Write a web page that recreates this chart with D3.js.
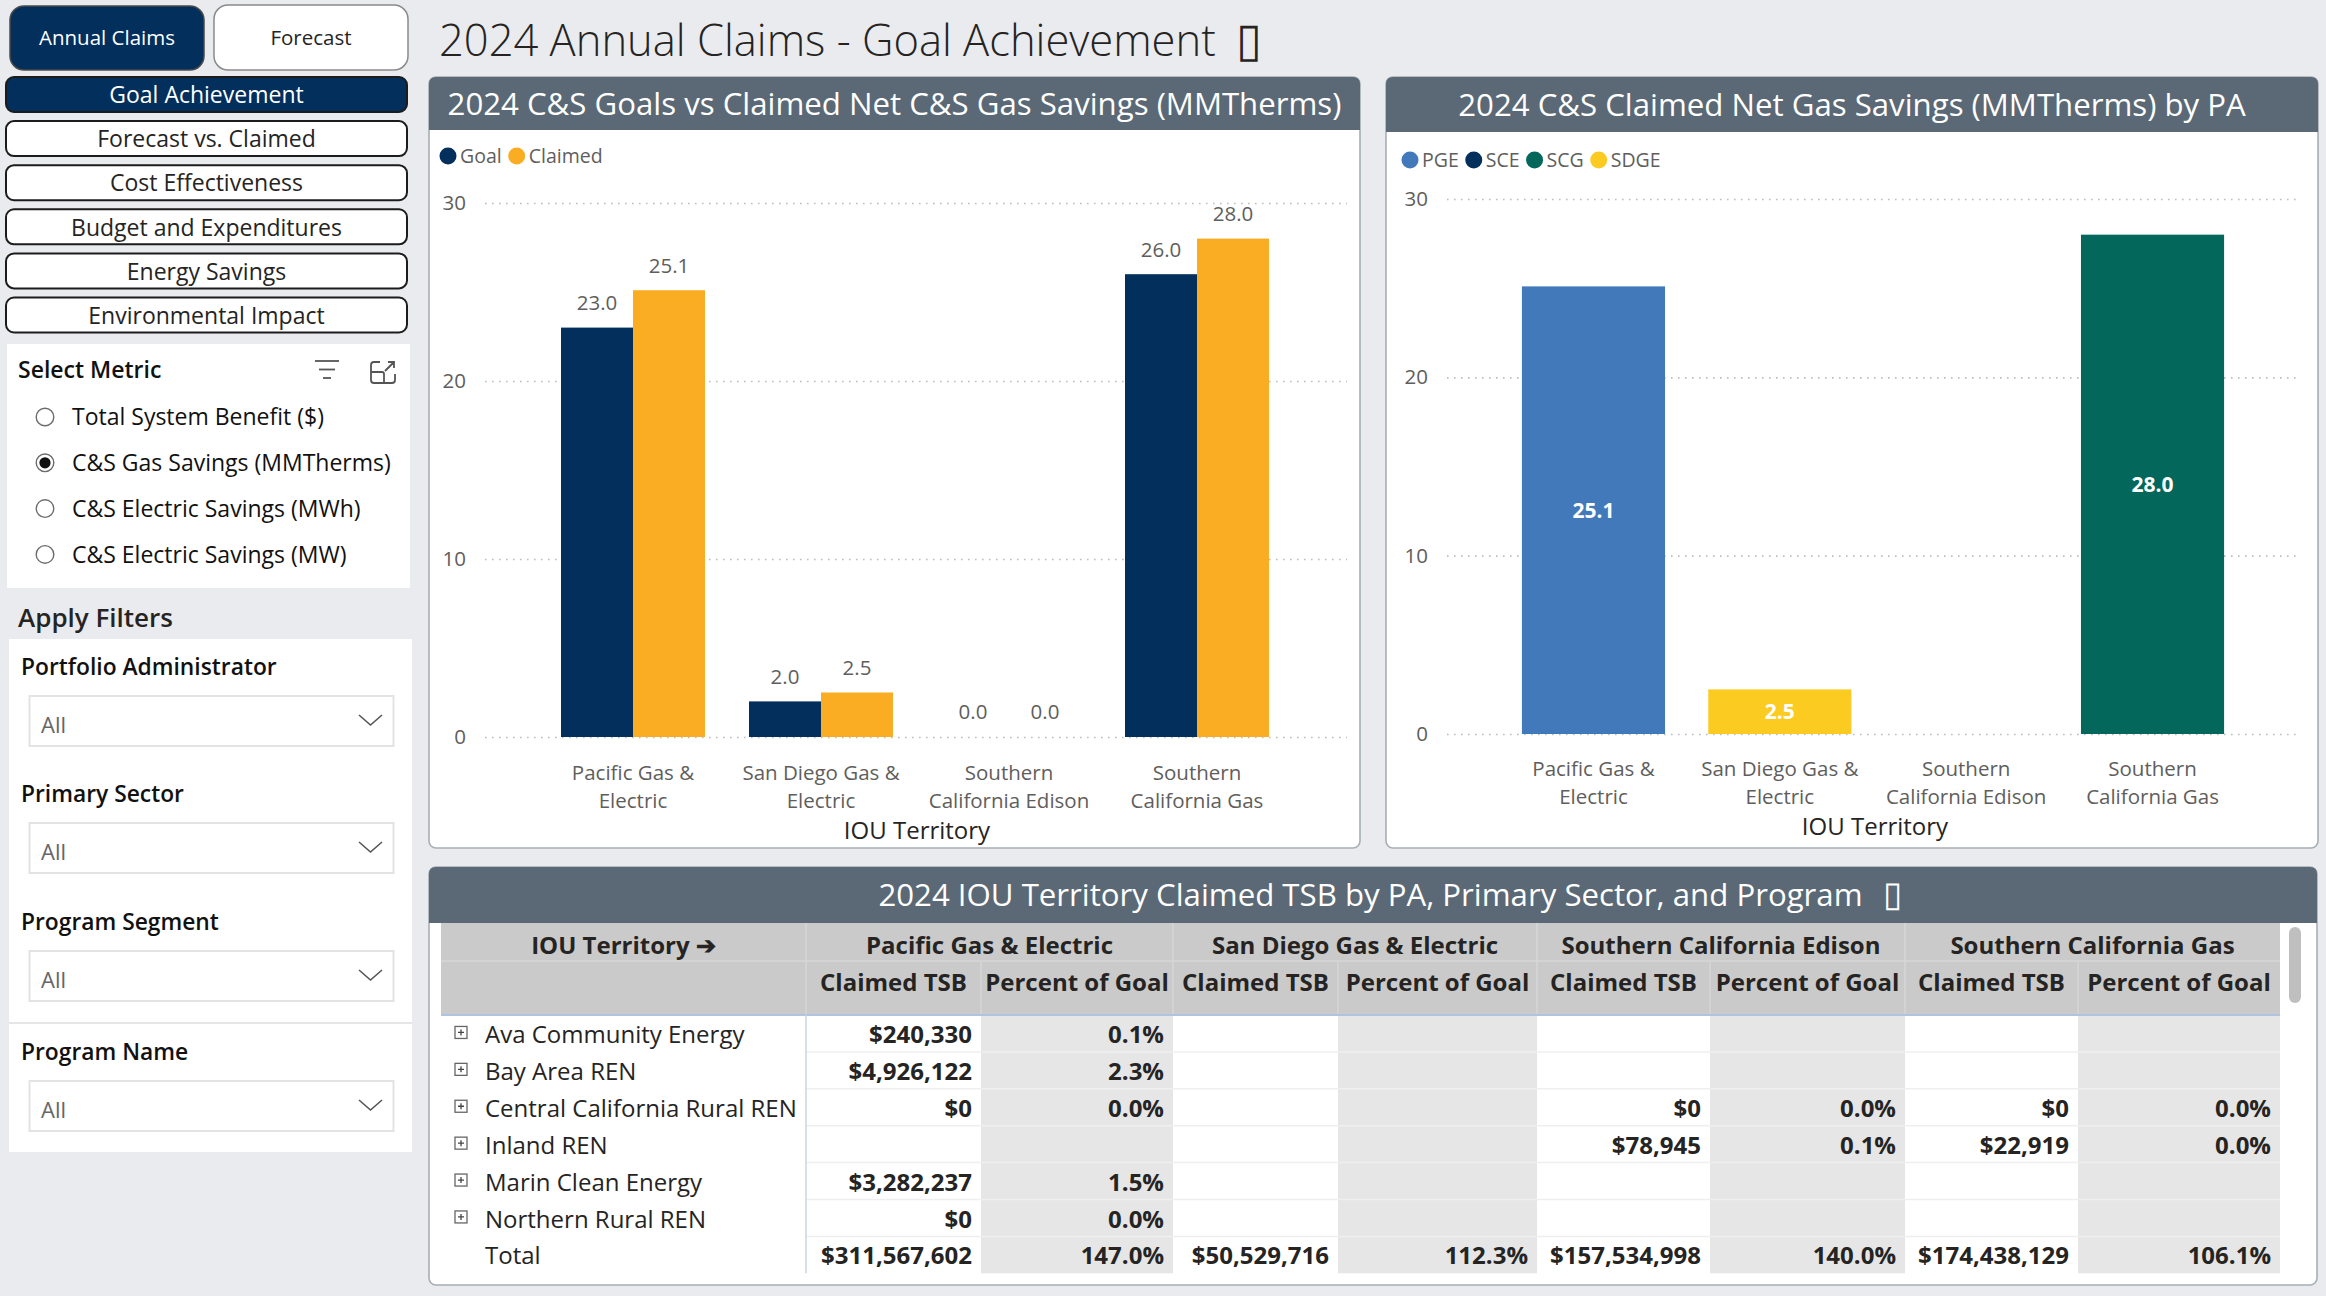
<!DOCTYPE html>
<html><head><meta charset="utf-8">
<script src="https://cdn.jsdelivr.net/npm/d3@7"></script>
<style>
html,body{margin:0;padding:0;background:#EAEBEF;overflow:hidden}
svg{display:block}
text{font-family:"Segoe UI","Open Sans","Noto Sans",sans-serif}
</style></head><body>
<svg id="c" width="2326" height="1296"></svg>
<script>
// ---------------- DATA ----------------
const topButtons = ["Annual Claims", "Forecast"];
const navPages = ["Goal Achievement", "Forecast vs. Claimed", "Cost Effectiveness", "Budget and Expenditures", "Energy Savings", "Environmental Impact"];
const metricOptions = ["Total System Benefit ($)", "C&S Gas Savings (MMTherms)", "C&S Electric Savings (MWh)", "C&S Electric Savings (MW)"];
const selectedMetric = "C&S Gas Savings (MMTherms)";
const filterNames = ["Portfolio Administrator", "Primary Sector", "Program Segment", "Program Name"];
const filterValues = ["All", "All", "All", "All"];

const pageTitle = "2024 Annual Claims - Goal Achievement";
const chart1Title = "2024 C&S Goals vs Claimed Net C&S Gas Savings (MMTherms)";
const chart2Title = "2024 C&S Claimed Net Gas Savings (MMTherms) by PA";
const tableTitle = "2024 IOU Territory Claimed TSB by PA, Primary Sector, and Program";
const xAxisTitle = "IOU Territory";

const territories = ["Pacific Gas & Electric", "San Diego Gas & Electric", "Southern California Edison", "Southern California Gas"];
const territoryLabelLines = [["Pacific Gas &", "Electric"], ["San Diego Gas &", "Electric"], ["Southern", "California Edison"], ["Southern", "California Gas"]];
const seriesNames = ["Goal", "Claimed"];
const goalMMTherms = [23.0, 2.0, 0.0, 26.0];
const claimedMMTherms = [25.1, 2.5, 0.0, 28.0];
const yTickValues = [0, 10, 20, 30];

const paLegendNames = ["PGE", "SCE", "SCG", "SDGE"];
const territoryPA = ["PGE", "SDGE", "SCE", "SCG"];
const paClaimedMMTherms = [25.1, 2.5, null, 28.0];

const programs = ["Ava Community Energy", "Bay Area REN", "Central California Rural REN", "Inland REN", "Marin Clean Energy", "Northern Rural REN"];
const tableColumnHeaders = ["Claimed TSB", "Percent of Goal"];
const pgeClaimedTSB = [240330, 4926122, 0, null, 3282237, 0];
const pgePctGoal = [0.1, 2.3, 0.0, null, 1.5, 0.0];
const sdgeClaimedTSB = [null, null, null, null, null, null];
const sdgePctGoal = [null, null, null, null, null, null];
const sceClaimedTSB = [null, null, 0, 78945, null, null];
const scePctGoal = [null, null, 0.0, 0.1, null, null];
const scgClaimedTSB = [null, null, 0, 22919, null, null];
const scgPctGoal = [null, null, 0.0, 0.0, null, null];
const totalClaimedTSB = [311567602, 50529716, 157534998, 174438129];
const totalPctGoal = [147.0, 112.3, 140.0, 106.1];

// ---------------- STYLE ----------------
const NAVY = "#022F5C", ORANGE = "#FAAC22", PGEBLUE = "#4279BA", TEAL = "#03675C", YELLOW = "#FCCB22";
const paColor = d3.scaleOrdinal().domain(paLegendNames).range([PGEBLUE, NAVY, TEAL, YELLOW]);
const seriesColor = d3.scaleOrdinal().domain(seriesNames).range([NAVY, ORANGE]);
const HEADER = "#5A6975", TXT = "#252423", GREY = "#605E5C";
const BOX = "\u25AF";

const svg = d3.select("#c");
svg.append("rect").attr("width", 2326).attr("height", 1296).attr("fill", "#EAEBEF");

// ---------------- LEFT PANEL ----------------
const tb = [{x: 10, y: 6, w: 194, h: 64}, {x: 214, y: 5, w: 194, h: 65}];
topButtons.forEach((t, i) => {
  const b = tb[i], on = i === 0;
  svg.append("rect").attr("x", b.x).attr("y", b.y).attr("width", b.w).attr("height", b.h).attr("rx", 14)
    .attr("fill", on ? NAVY : "#fff").attr("stroke", on ? "#4a4a4a" : "#8a8a8a").attr("stroke-width", 1.5);
  svg.append("text").attr("x", b.x + b.w / 2).attr("y", b.y + b.h / 2).attr("dy", "0.36em").attr("text-anchor", "middle")
    .attr("font-size", 20.5).attr("fill", on ? "#fff" : TXT).text(t);
});
navPages.forEach((t, i) => {
  const y = 77 + i * 44.1, on = i === 0;
  svg.append("rect").attr("x", 6).attr("y", y).attr("width", 401).attr("height", 35).attr("rx", 8)
    .attr("fill", on ? NAVY : "#fff").attr("stroke", "#1c1c1c").attr("stroke-width", 2);
  svg.append("text").attr("x", 206.5).attr("y", y + 18).attr("dy", "0.36em").attr("text-anchor", "middle")
    .attr("font-size", 23).attr("fill", on ? "#fff" : TXT).text(t);
});
// Select Metric slicer
svg.append("rect").attr("x", 7).attr("y", 344).attr("width", 403).attr("height", 244).attr("fill", "#fff");
svg.append("text").attr("x", 18).attr("y", 378).attr("font-size", 23).attr("font-weight", 600).attr("fill", "#111").text("Select Metric");
const fi = svg.append("g").attr("stroke", "#555").attr("stroke-width", 1.8);
[[315, 339, 361], [319, 335, 369.5], [323, 331, 378]].forEach(l => fi.append("line").attr("x1", l[0]).attr("x2", l[1]).attr("y1", l[2]).attr("y2", l[2]));
svg.append("path").attr("d", "M380,362 H374 Q371,362 371,365 V380 Q371,383 374,383 H392 Q395,383 395,380 V374 M371,372 H382 Q384,372 384,374 V383 M385,371 L394,362 M388,362 H394 V368")
  .attr("fill", "none").attr("stroke", "#555").attr("stroke-width", 1.8);
metricOptions.forEach((m, i) => {
  const cy = 417 + i * 45.8;
  svg.append("circle").attr("cx", 45).attr("cy", cy).attr("r", 8.8).attr("fill", "#fff").attr("stroke", "#6b6b6b").attr("stroke-width", 1.4);
  if (m === selectedMetric) svg.append("circle").attr("cx", 45).attr("cy", cy).attr("r", 5.6).attr("fill", "#111");
  svg.append("text").attr("x", 72).attr("y", cy).attr("dy", "0.36em").attr("font-size", 23).attr("fill", "#111").text(m);
});
svg.append("text").attr("x", 18).attr("y", 627).attr("font-size", 26).attr("font-weight", 600).attr("fill", TXT).text("Apply Filters");
svg.append("rect").attr("x", 9).attr("y", 639).attr("width", 403).attr("height", 513).attr("fill", "#fff");
svg.append("line").attr("x1", 9).attr("x2", 412).attr("y1", 1023).attr("y2", 1023).attr("stroke", "#E6E6E6").attr("stroke-width", 2);
const filterY = [675, 802, 930, 1060];
filterNames.forEach((f, i) => {
  const y = filterY[i];
  svg.append("text").attr("x", 21).attr("y", y).attr("font-size", 22.8).attr("font-weight", 600).attr("fill", "#111").text(f);
  svg.append("rect").attr("x", 29.5).attr("y", y + 21).attr("width", 364).attr("height", 50).attr("fill", "#fff").attr("stroke", "#E3E3E3").attr("stroke-width", 2);
  svg.append("text").attr("x", 41).attr("y", y + 50).attr("dy", "0.36em").attr("font-size", 22).attr("fill", "#666").text(filterValues[i]);
  svg.append("path").attr("d", `M359,${y + 40} L370.5,${y + 50} L382,${y + 40}`).attr("fill", "none").attr("stroke", "#555").attr("stroke-width", 1.6);
});

// ---------------- TITLE ----------------
{
  const t = svg.append("text").attr("x", 439).attr("y", 56).attr("font-size", 43.5).attr("font-weight", 300).attr("fill", TXT).text(pageTitle);
  t.append("tspan").attr("dx", 20).style("font-size", "108%").text(BOX);
}

// ---------------- CARD helper ----------------
function card(x, y, w, h, hh, title, tx, withBox) {
  svg.append("rect").attr("x", x).attr("y", y).attr("width", w).attr("height", h).attr("rx", 7)
    .attr("fill", "#fff").attr("stroke", "#A7AFB5").attr("stroke-width", 1.6);
  const r = 7;
  svg.append("path").attr("d", `M${x},${y + hh} V${y + r} Q${x},${y} ${x + r},${y} H${x + w - r} Q${x + w},${y} ${x + w},${y + r} V${y + hh} Z`)
    .attr("fill", HEADER);
  const t = svg.append("text").attr("x", tx == null ? x + w / 2 : tx).attr("y", y + hh / 2).attr("dy", "0.36em").attr("text-anchor", "middle")
    .attr("font-size", 31.2).attr("fill", "#fff").text(title);
  if (withBox) t.append("tspan").attr("dx", 20).style("font-size", "112%").text(BOX);
}

// ---------------- CHART 1 ----------------
card(429, 77, 931, 771, 53, chart1Title);
{
  const g = svg.append("g");
  const x = d3.scaleBand().domain(territories).range([539, 1291]).paddingInner(0.234).paddingOuter(0.117);
  const xs = d3.scaleBand().domain(seriesNames).range([0, x.bandwidth()]);
  const y = d3.scaleLinear().domain([0, 30]).range([737, 203]);
  const ax = g.append("g").attr("transform", "translate(485,0)")
    .call(d3.axisLeft(y).tickValues(yTickValues).tickSize(-(1347 - 485)).tickPadding(19).tickFormat(d3.format("d")));
  ax.select(".domain").remove();
  ax.selectAll(".tick line").attr("stroke", "#BDBDBD").attr("stroke-width", 1.6).attr("stroke-dasharray", "1.6,5.4");
  ax.selectAll(".tick text").attr("font-size", 20.5).attr("fill", GREY).attr("font-family", null);
  const lg = g.append("g");
  let lx = 448;
  seriesNames.forEach(s => {
    lg.append("circle").attr("cx", lx).attr("cy", 156).attr("r", 8.5).attr("fill", seriesColor(s));
    const t = lg.append("text").attr("x", lx + 12).attr("y", 156).attr("dy", "0.36em").attr("font-size", 19.5).attr("fill", GREY).text(s);
    lx += 12 + t.node().getComputedTextLength() + 15;
  });
  const rows = territories.map((t, i) => ({t, vals: [goalMMTherms[i], claimedMMTherms[i]]}));
  const grp = g.selectAll(".grp").data(rows).join("g").attr("transform", d => `translate(${x(d.t)},0)`);
  grp.selectAll("rect").data(d => d.vals.map((v, j) => ({s: seriesNames[j], v}))).join("rect")
    .attr("x", d => xs(d.s)).attr("width", xs.bandwidth()).attr("y", d => y(d.v)).attr("height", d => y(0) - y(d.v))
    .attr("fill", d => seriesColor(d.s));
  grp.selectAll("text.lbl").data(d => d.vals.map((v, j) => ({s: seriesNames[j], v}))).join("text").attr("class", "lbl")
    .attr("x", d => xs(d.s) + xs.bandwidth() / 2).attr("y", d => y(d.v) - 25).attr("dy", "0.36em").attr("text-anchor", "middle")
    .attr("font-size", 20.5).attr("fill", GREY).text(d => d3.format(".1f")(d.v));
  territories.forEach((t, i) => {
    territoryLabelLines[i].forEach((ln, k) => {
      g.append("text").attr("x", x(t) + x.bandwidth() / 2).attr("y", 773 + k * 27.5).attr("dy", "0.36em").attr("text-anchor", "middle")
        .attr("font-size", 20.5).attr("fill", GREY).text(ln);
    });
  });
  g.append("text").attr("x", 917).attr("y", 830.5).attr("dy", "0.36em").attr("text-anchor", "middle").attr("font-size", 24).attr("fill", TXT).text(xAxisTitle);
}

// ---------------- CHART 2 ----------------
card(1386, 77, 932, 771, 55, chart2Title);
{
  const g = svg.append("g");
  const x = d3.scaleBand().domain(territories).range([1500.3, 2245.7]).paddingInner(0.232).paddingOuter(0.116);
  const y = d3.scaleLinear().domain([0, 30]).range([734, 199]);
  const ax = g.append("g").attr("transform", "translate(1447,0)")
    .call(d3.axisLeft(y).tickValues(yTickValues).tickSize(-(2301 - 1447)).tickPadding(19).tickFormat(d3.format("d")));
  ax.select(".domain").remove();
  ax.selectAll(".tick line").attr("stroke", "#BDBDBD").attr("stroke-width", 1.6).attr("stroke-dasharray", "1.6,5.4");
  ax.selectAll(".tick text").attr("font-size", 20.5).attr("fill", GREY).attr("font-family", null);
  let lx = 1410;
  paLegendNames.forEach(s => {
    g.append("circle").attr("cx", lx).attr("cy", 160).attr("r", 8.5).attr("fill", paColor(s));
    const t = g.append("text").attr("x", lx + 12).attr("y", 160).attr("dy", "0.36em").attr("font-size", 19.5).attr("fill", GREY).text(s);
    lx += 12 + t.node().getComputedTextLength() + 15;
  });
  const data = territories.map((t, i) => ({t, pa: territoryPA[i], v: paClaimedMMTherms[i]})).filter(d => d.v != null);
  g.selectAll("rect.bar").data(data).join("rect").attr("class", "bar")
    .attr("x", d => x(d.t)).attr("width", x.bandwidth()).attr("y", d => y(d.v)).attr("height", d => y(0) - y(d.v))
    .attr("fill", d => paColor(d.pa));
  g.selectAll("text.lbl").data(data).join("text").attr("class", "lbl")
    .attr("x", d => x(d.t) + x.bandwidth() / 2).attr("y", d => (y(d.v) + y(0)) / 2).attr("dy", "0.36em").attr("text-anchor", "middle")
    .attr("font-size", 21).attr("font-weight", 700).attr("fill", "#fff").text(d => d3.format(".1f")(d.v));
  territories.forEach((t, i) => {
    territoryLabelLines[i].forEach((ln, k) => {
      g.append("text").attr("x", x(t) + x.bandwidth() / 2).attr("y", 769 + k * 27.5).attr("dy", "0.36em").attr("text-anchor", "middle")
        .attr("font-size", 20.5).attr("fill", GREY).text(ln);
    });
  });
  g.append("text").attr("x", 1875).attr("y", 826.5).attr("dy", "0.36em").attr("text-anchor", "middle").attr("font-size", 24).attr("fill", TXT).text(xAxisTitle);
}

// ---------------- TABLE ----------------
card(429, 867, 1888, 418, 56, tableTitle, 1390, true);
{
  const g = svg.append("g");
  const colEdges = [441, 806, 981, 1173, 1338, 1537, 1710, 1905, 2078, 2280];
  const hdrTop = 923, hdrMid = 961, hdrBot = 1015, rowH = 36.9;
  const claimedCols = [pgeClaimedTSB, sdgeClaimedTSB, sceClaimedTSB, scgClaimedTSB];
  const pctCols = [pgePctGoal, sdgePctGoal, scePctGoal, scgPctGoal];
  const fmtTSB = d3.format("$,.0f"), fmtPct = v => d3.format(".1f")(v) + "%";
  const bodyBot = hdrBot + rowH * (programs.length + 1);
  const FS = 24;
  g.append("rect").attr("x", colEdges[0]).attr("y", hdrTop).attr("width", colEdges[9] - colEdges[0]).attr("height", hdrBot - hdrTop).attr("fill", "#CACACA");
  for (let k = 0; k < 4; k++) {
    g.append("rect").attr("x", colEdges[2 + 2 * k]).attr("y", hdrBot).attr("width", colEdges[3 + 2 * k] - colEdges[2 + 2 * k]).attr("height", bodyBot - hdrBot).attr("fill", "#E6E6E6");
  }
  g.append("line").attr("x1", colEdges[0]).attr("x2", colEdges[9]).attr("y1", hdrMid).attr("y2", hdrMid).attr("stroke", "#D6D6D6").attr("stroke-width", 1.5);
  [1, 3, 5, 7].forEach(c => g.append("line").attr("x1", colEdges[c]).attr("x2", colEdges[c]).attr("y1", hdrTop).attr("y2", hdrBot).attr("stroke", "#D6D6D6").attr("stroke-width", 1.5));
  [2, 4, 6, 8].forEach(c => g.append("line").attr("x1", colEdges[c]).attr("x2", colEdges[c]).attr("y1", hdrMid).attr("y2", hdrBot).attr("stroke", "#D6D6D6").attr("stroke-width", 1.5));
  for (let r = 1; r <= programs.length; r++) {
    g.append("line").attr("x1", colEdges[1]).attr("x2", colEdges[9]).attr("y1", hdrBot + r * rowH).attr("y2", hdrBot + r * rowH).attr("stroke", "#EFEFEF").attr("stroke-width", 1.5);
  }
  g.append("line").attr("x1", colEdges[0]).attr("x2", colEdges[9]).attr("y1", hdrBot).attr("y2", hdrBot).attr("stroke", "#AFC4E2").attr("stroke-width", 2);
  g.append("line").attr("x1", colEdges[1]).attr("x2", colEdges[1]).attr("y1", hdrBot).attr("y2", bodyBot).attr("stroke", "#C9D5E6").attr("stroke-width", 1.5);
  g.append("text").attr("x", (colEdges[0] + colEdges[1]) / 2).attr("y", 945).attr("dy", "0.36em").attr("text-anchor", "middle")
    .attr("font-size", FS).attr("font-weight", 700).attr("fill", TXT).text("IOU Territory \u2794");
  territories.forEach((t, k) => {
    g.append("text").attr("x", (colEdges[1 + 2 * k] + colEdges[3 + 2 * k]) / 2).attr("y", 945).attr("dy", "0.36em").attr("text-anchor", "middle")
      .attr("font-size", FS).attr("font-weight", 700).attr("fill", TXT).text(t);
    tableColumnHeaders.forEach((h, j) => {
      g.append("text").attr("x", (colEdges[1 + 2 * k + j] + colEdges[2 + 2 * k + j]) / 2).attr("y", 982).attr("dy", "0.36em").attr("text-anchor", "middle")
        .attr("font-size", FS).attr("font-weight", 700).attr("fill", TXT).text(h);
    });
  });
  const allRows = programs.map((p, i) => ({name: p, exp: true, tsb: claimedCols.map(c => c[i]), pct: pctCols.map(c => c[i])}));
  allRows.push({name: "Total", exp: false, tsb: totalClaimedTSB, pct: totalPctGoal});
  allRows.forEach((r, i) => {
    const cy = hdrBot + rowH * i + rowH / 2 + 1;
    if (r.exp) {
      g.append("rect").attr("x", 455).attr("y", cy - 8).attr("width", 12).attr("height", 12).attr("fill", "#fff").attr("stroke", "#666").attr("stroke-width", 1.3);
      g.append("path").attr("d", `M458,${cy - 2} H464 M461,${cy - 5} V${cy + 1}`).attr("stroke", "#444").attr("stroke-width", 1.3);
    }
    g.append("text").attr("x", 485).attr("y", cy).attr("dy", "0.36em").attr("font-size", FS).attr("font-weight", 500).attr("fill", TXT).text(r.name);
    for (let k = 0; k < 4; k++) {
      if (r.tsb[k] != null) g.append("text").attr("x", colEdges[2 + 2 * k] - 9).attr("y", cy).attr("dy", "0.36em").attr("text-anchor", "end")
        .attr("font-size", FS).attr("font-weight", 700).attr("fill", TXT).text(fmtTSB(r.tsb[k]));
      if (r.pct[k] != null) g.append("text").attr("x", colEdges[3 + 2 * k] - 9).attr("y", cy).attr("dy", "0.36em").attr("text-anchor", "end")
        .attr("font-size", FS).attr("font-weight", 700).attr("fill", TXT).text(fmtPct(r.pct[k]));
    }
  });
  g.append("rect").attr("x", 2289).attr("y", 927).attr("width", 12).attr("height", 76).attr("rx", 6).attr("fill", "#BFBFBF");
}
</script>
</body></html>
